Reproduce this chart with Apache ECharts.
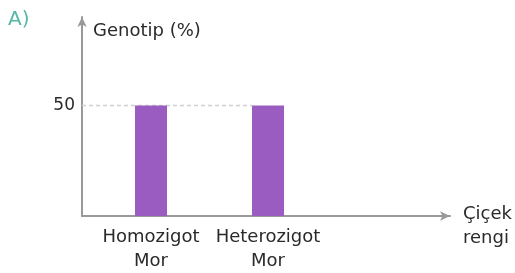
<!DOCTYPE html>
<html>
<head>
<meta charset="utf-8">
<script src="https://cdn.jsdelivr.net/npm/echarts@6/dist/echarts.min.js"></script>
<style>html,body{margin:0;padding:0;background:#fff;}#c{width:515px;height:273px;}</style>
</head>
<body>
<div id="c"></div>
<script>
var categories = ['Homozigot\nMor', 'Heterozigot\nMor'];
var genotypeValues = [50, 50];
var yTicks = [50];
var yAxisTitle = 'Genotip (%)';
var xAxisTitle = 'Çiçek\nrengi';
var panelLabel = 'A)';
var guideLine = [[0, 50], [0.462, 50]];

var FONT = 'DejaVu Sans';
var chart = echarts.init(document.getElementById('c'), null, {renderer: 'canvas'});
chart.setOption({
  animation: false,
  backgroundColor: '#fff',
  grid: [
    {left: 82, right: 65, top: 17, bottom: 57},
    {left: 92.5, right: 188.5, top: 17, bottom: 57}
  ],
  xAxis: [
    {gridIndex: 0, type: 'value', min: 0, max: 1,
     axisLine: {show: true, lineStyle: {color: '#999999', width: 2}, symbol: ['none', 'arrow'], symbolSize: [7, 10]},
     axisTick: {show: false}, axisLabel: {show: false}, splitLine: {show: false}},
    {gridIndex: 1, type: 'category', data: categories,
     axisLine: {show: false}, axisTick: {show: false}, splitLine: {show: false},
     axisLabel: {show: true, interval: 0, margin: 9, color: '#2a2a2a', fontFamily: FONT, fontSize: 18, lineHeight: 24}}
  ],
  yAxis: [
    {gridIndex: 0, type: 'value', min: 0, max: 90, interval: 50,
     axisLine: {show: true, lineStyle: {color: '#999999', width: 2}, symbol: ['none', 'arrow'], symbolSize: [7, 10]},
     axisTick: {show: false}, splitLine: {show: false},
     axisLabel: {show: true, margin: 7, color: '#2a2a2a', fontFamily: FONT, fontSize: 17,
       formatter: function (v) { return yTicks.indexOf(v) >= 0 ? String(v) : ''; }}},
    {gridIndex: 1, type: 'value', min: 0, max: 90, show: false}
  ],
  graphic: [
    {type: 'text', left: 8, top: 10, style: {text: panelLabel, fill: '#55b8a6', font: '20px "' + FONT + '"'}},
    {type: 'text', left: 93, top: 22, style: {text: yAxisTitle, fill: '#2a2a2a', font: '18px "' + FONT + '"'}},
    {type: 'text', left: 463, top: 202, style: {text: xAxisTitle, fill: '#2a2a2a', font: '18px "' + FONT + '"', lineHeight: 24}}
  ],
  series: [
    {type: 'line', xAxisIndex: 0, yAxisIndex: 0, data: guideLine, symbol: 'none', z: 1,
     lineStyle: {color: '#cfcfcf', width: 1.5, type: [4, 3]}},
    {type: 'bar', xAxisIndex: 1, yAxisIndex: 1, data: genotypeValues, barWidth: 32, z: 3,
     itemStyle: {color: '#9a5cc0'}}
  ]
});
</script>
</body>
</html>
